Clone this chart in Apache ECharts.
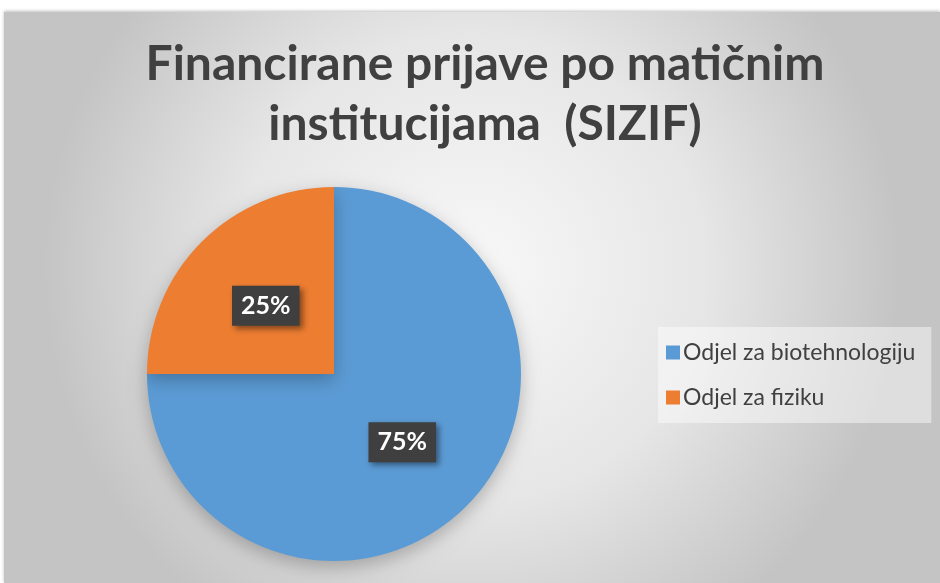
<!DOCTYPE html>
<html>
<head>
<meta charset="utf-8">
<script src="https://cdn.jsdelivr.net/npm/echarts@6/dist/echarts.min.js"></script>
<style>
  html, body { margin: 0; padding: 0; background: #fff; }
  #chart { width: 940px; height: 583px; }
</style>
</head>
<body>
<div id="chart"></div>
<script>
const titleText = 'Financirane prijave po matičnim\ninstitucijama  (SIZIF)'
const categories = ['Odjel za biotehnologiju', 'Odjel za fiziku']
const shares = [75, 25]
const colors = ['#5B9BD5', '#ED7D31']

const chart = echarts.init(document.getElementById('chart'))

const seriesData = categories.map((name, i) => ({
  name: name,
  value: shares[i],
  itemStyle: { color: colors[i] },
}))

const option = {
  backgroundColor: '#ffffff',
  animation: false,
  graphic: [
    {
      // chart area with the soft radial fill
      type: 'rect',
      z: -10,
      shape: { x: 4, y: 12, width: 936, height: 571 },
      style: {
        fill: new echarts.graphic.RadialGradient(0.5, 0.45, 0.75, [
          { offset: 0, color: '#f8f8f8' },
          { offset: 0.55, color: '#e6e6e6' },
          { offset: 1, color: '#c4c4c4' },
        ]),
        shadowColor: 'rgba(0,0,0,0.25)',
        shadowBlur: 3,
        shadowOffsetY: -1,
      },
    },
  ],
  title: {
    text: titleText,
    left: 480,
    top: 30,
    textAlign: 'center',
    textStyle: {
      fontFamily: 'Lato, sans-serif',
      fontWeight: 'bold',
      fontSize: 48,
      lineHeight: 60,
      color: '#404040',
    },
  },
  legend: {
    orient: 'vertical',
    left: 658,
    top: 327,
    padding: [14, 16, 14, 8],
    backgroundColor: 'rgba(255,255,255,0.45)',
    itemWidth: 14,
    itemHeight: 14,
    itemGap: 22,
    icon: 'rect',
    data: categories,
    textStyle: {
      fontFamily: 'Lato, sans-serif',
      fontSize: 23,
      color: '#404040',
      padding: [0, 0, 0, -2],
    },
  },
  series: [
    {
      type: 'pie',
      center: [334, 374],
      radius: 187,
      startAngle: 90,
      clockwise: true,
      silent: true,
      itemStyle: {
        shadowColor: 'rgba(0,0,0,0.25)',
        shadowBlur: 18,
        shadowOffsetY: 6,
      },
      label: {
        show: true,
        position: 'inside',
        formatter: '{d}%',
        color: '#ffffff',
        fontFamily: 'Lato, sans-serif',
        fontWeight: 'bold',
        fontSize: 25,
        backgroundColor: '#3f3f3f',
        padding: [8, 9, 7, 9],
        shadowColor: 'rgba(0,0,0,0.45)',
        shadowBlur: 6,
        shadowOffsetX: 3,
        shadowOffsetY: 3,
      },
      labelLine: { show: false },
      data: seriesData,
    },
  ],
}

chart.setOption(option)
</script>
</body>
</html>
